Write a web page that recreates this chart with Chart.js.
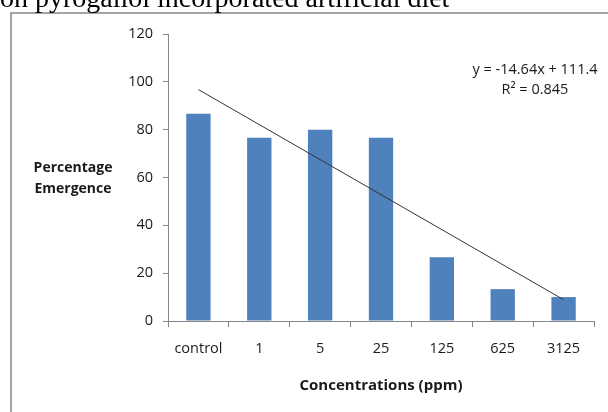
<!DOCTYPE html>
<html>
<head>
<meta charset="utf-8">
<script src="https://cdn.jsdelivr.net/npm/chart.js@4.4.1/dist/chart.umd.min.js"></script>
<style>
  html, body { margin: 0; padding: 0; background: #fff; }
  #wrap { position: relative; width: 608px; height: 412px; }
</style>
</head>
<body>
<div id="wrap"><canvas id="chart"></canvas></div>
<script>
// data
const categories = ['control', '1', '5', '25', '125', '625', '3125'];
const emergence = [86.67, 76.67, 80, 76.67, 26.67, 13.33, 10];
// linear trend end points (y = -14.64x + 111.4 at x = 1 and x = 7)
const trendLine = [96.76, null, null, null, null, null, 8.92];
const yMin = 0;
const yMax = 120;
const yStep = 20;
const equationLines = ['y = -14.64x + 111.4', 'R\u00b2 = 0.845'];
const pageTitle = 'on pyrogallol incorporated artificial diet';
const yTitle = ['Percentage', 'Emergence'];
const xTitle = 'Concentrations (ppm)';

const axisColor = '#868686';
const textColor = '#1a1a1a';
const fontFamily = '"Open Sans", "Liberation Sans", sans-serif';

// frame, cut-off caption and the free text labels
const decorations = {
  id: 'decorations',
  beforeDraw(chart) {
    const ctx = chart.ctx;
    ctx.save();
    ctx.strokeStyle = axisColor;
    ctx.lineWidth = 1.5;
    ctx.beginPath();
    ctx.moveTo(11, 412);
    ctx.lineTo(11, 13);
    ctx.lineTo(608, 13);
    ctx.stroke();
    ctx.fillStyle = '#000';
    ctx.font = '28px "Liberation Serif", "Times New Roman", serif';
    ctx.textBaseline = 'alphabetic';
    ctx.textAlign = 'left';
    ctx.fillText(pageTitle, 0, 7);
    ctx.restore();
  },
  afterDraw(chart) {
    const ctx = chart.ctx;
    ctx.save();
    ctx.fillStyle = textColor;
    ctx.textAlign = 'center';
    ctx.textBaseline = 'middle';
    ctx.font = 'bold 14px ' + fontFamily;
    ctx.fillText(yTitle[0], 73, 168);
    ctx.fillText(yTitle[1], 73, 189);
    const area = chart.chartArea;
    ctx.font = 'bold 15px ' + fontFamily;
    ctx.fillText(xTitle, (area.left + area.right) / 2, 386);
    ctx.font = '14.5px ' + fontFamily;
    ctx.fillText(equationLines[0], 535, 70);
    ctx.fillText(equationLines[1], 535, 90);
    ctx.restore();
  }
};

const ctx = document.getElementById('chart').getContext('2d');
new Chart(ctx, {
  type: 'bar',
  data: {
    labels: categories,
    datasets: [
      {
        type: 'line',
        label: 'Linear trend',
        data: trendLine,
        spanGaps: true,
        borderColor: '#333333',
        borderWidth: 1,
        pointRadius: 0,
        fill: false,
        order: 0
      },
      {
        label: 'Percentage Emergence',
        data: emergence,
        backgroundColor: '#4f81bd',
        borderWidth: 0,
        barPercentage: 0.4,
        categoryPercentage: 1,
        order: 1
      }
    ]
  },
  options: {
    responsive: true,
    maintainAspectRatio: false,
    animation: false,
    layout: { padding: { left: 0, top: 34, right: 14, bottom: 0 } },
    plugins: {
      legend: { display: false },
      tooltip: { enabled: false }
    },
    scales: {
      x: {
        grid: {
          offset: true,
          drawOnChartArea: false,
          drawTicks: true,
          tickLength: 6,
          color: axisColor
        },
        border: { color: axisColor, width: 1 },
        ticks: {
          color: textColor,
          font: { family: fontFamily, size: 14.5 },
          padding: 13,
          maxRotation: 0
        },
        afterFit(scale) { scale.height = 91; }
      },
      y: {
        min: yMin,
        max: yMax,
        grid: {
          drawOnChartArea: false,
          drawTicks: true,
          tickLength: 5,
          color: axisColor
        },
        border: { color: axisColor, width: 1 },
        ticks: {
          stepSize: yStep,
          color: textColor,
          font: { family: fontFamily, size: 14.5 },
          padding: 10
        },
        afterFit(scale) { scale.width = 168; }
      }
    }
  },
  plugins: [decorations]
});
</script>
</body>
</html>
